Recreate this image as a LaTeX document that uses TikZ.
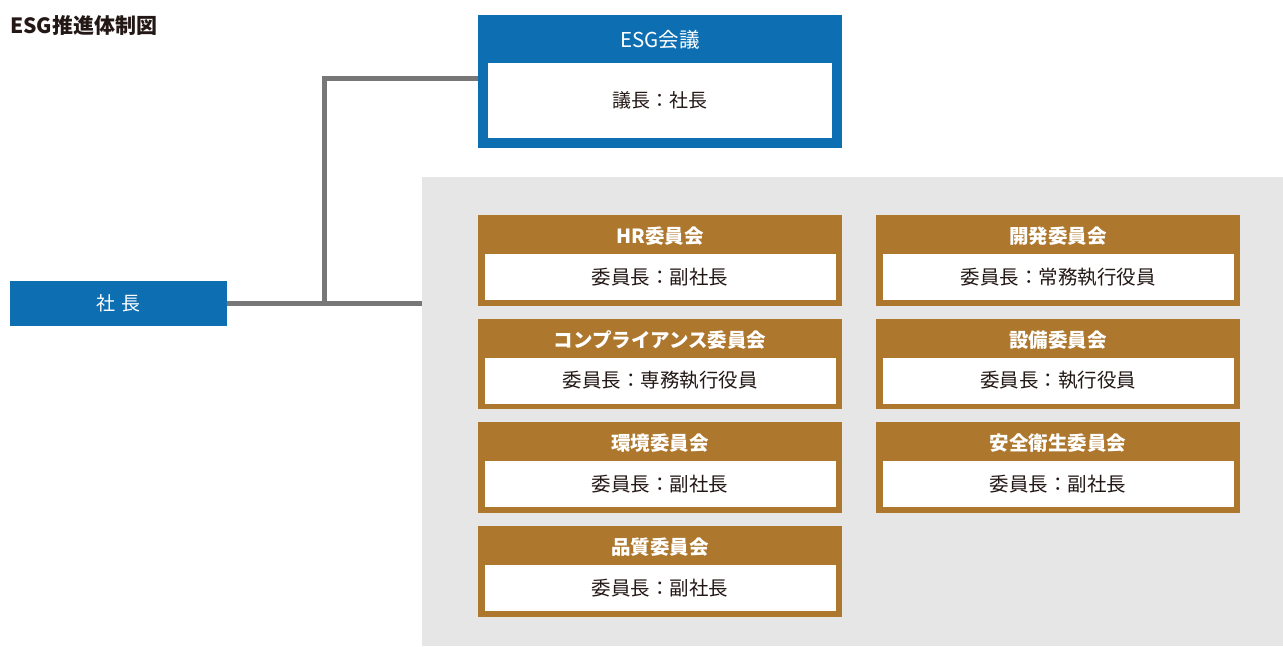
\documentclass[tikz,border=0pt]{standalone}
\usepackage{fontspec}
\setmainfont{Noto Sans CJK JP}
\definecolor{esgblue}{HTML}{0D6EB2}
\definecolor{cbrown}{HTML}{AE772E}
\definecolor{bggrey}{HTML}{E6E6E6}
\definecolor{linegrey}{HTML}{777777}
\definecolor{txt}{HTML}{231815}
\tikzset{
  box/.style={draw=none, inner sep=0pt, outer sep=0pt},
  cout/.style={box, fill=cbrown, minimum width=364pt, minimum height=90.5pt},
  cin/.style={box, fill=white, minimum width=351pt, minimum height=46pt, text=txt, font=\fontsize{19.5}{22}\selectfont},
  chead/.style={box, text=white, font=\bfseries\fontsize{19.5}{22}\selectfont},
  conn/.style={draw=linegrey, line width=5pt},
}
\newcommand\cmte[5]{%
  \node[cout, anchor=north west] (#1) at (#2,#3) {};
  \node[cin, anchor=north] (#1-in) at ([yshift=-39pt]#1.north) {委員長：#5};
  \node[chead] (#1-t) at ([yshift=-21pt]#1.north) {#4};
}
\begin{document}
\begin{tikzpicture}[x=1pt,y=-1pt]
\useasboundingbox (0,0) rectangle (1283,646);
% title
\node[box, anchor=west, text=txt, font=\bfseries\fontsize{21}{24}\selectfont] (title) at (10,25) {ESG推進体制図};
% grey background
\node[box, fill=bggrey, anchor=north west, minimum width=861pt, minimum height=469pt] (bg) at (422,177) {};
% ESG box
\node[box, fill=esgblue, anchor=north west, minimum width=364pt, minimum height=133pt] (esg) at (478,15) {};
\node[box, fill=white, anchor=north, minimum width=344pt, minimum height=75pt, text=txt, font=\fontsize{19}{22}\selectfont] (esg-in) at ([yshift=-48pt]esg.north) {議長：社長};
\node[box, text=white, font=\fontsize{20.5}{23}\selectfont] (esg-t) at ([yshift=-25pt]esg.north) {ESG会議};
% president
\node[box, fill=esgblue, anchor=north west, minimum width=217pt, minimum height=45pt, text=white, font=\fontsize{19}{22}\selectfont] (pres) at (10,281) {社\hspace{0.3em}長};
% committees
\cmte{hr}{478}{215}{HR委員会}{副社長}
\cmte{comp}{478}{318.7}{コンプライアンス委員会}{専務執行役員}
\cmte{env}{478}{422.3}{環境委員会}{副社長}
\cmte{qual}{478}{526}{品質委員会}{副社長}
\cmte{dev}{876}{215}{開発委員会}{常務執行役員}
\cmte{fac}{876}{318.7}{設備委員会}{執行役員}
\cmte{safe}{876}{422.3}{安全衛生委員会}{副社長}
% connectors
\coordinate (j) at (324,303.5);
\draw[conn] (pres.east) -- (pres.east -| bg.west);
\draw[conn] ([yshift=2.5pt]j) |- ([yshift=3.5pt]esg.west);
\end{tikzpicture}
\end{document}
